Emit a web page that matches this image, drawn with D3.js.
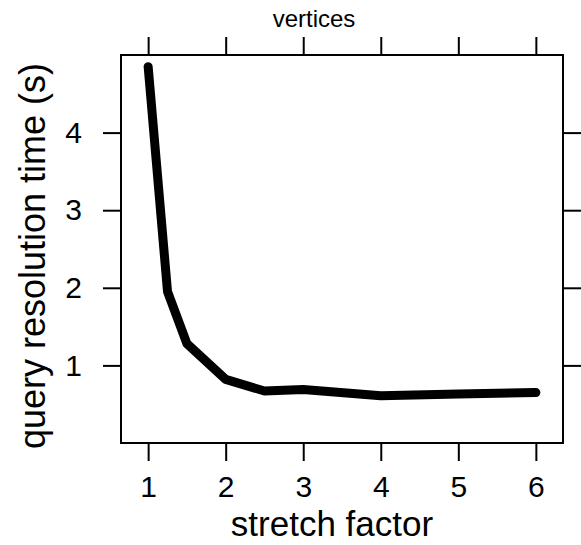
<!DOCTYPE html>
<html>
<head>
<meta charset="utf-8">
<script src="https://cdn.jsdelivr.net/npm/d3@7"></script>
<style>
  body { margin: 0; background: #fff; }
  text { font-family: "Liberation Sans", Arial, Helvetica, sans-serif; fill: #000; }
</style>
</head>
<body>
<div id="vis"></div>
<script>
// data
var stretchFactor = [1, 1.25, 1.5, 2, 2.5, 3, 4, 5, 6];
var queryTime = [4.85, 1.95, 1.28, 0.82, 0.67, 0.69, 0.61, 0.63, 0.65];
var xTicks = [1, 2, 3, 4, 5, 6];
var yTicks = [1, 2, 3, 4];

var width = 581, height = 545;
var panel = {left: 121, right: 563, top: 55, bottom: 443};

var svg = d3.select("#vis")
  .append("svg")
  .attr("width", width)
  .attr("height", height);

// lattice style padding on x, y fixed 0..5
var x = d3.scaleLinear().domain([0.65, 6.35]).range([panel.left, panel.right]);
var y = d3.scaleLinear().domain([0, 5]).range([panel.bottom, panel.top]);

var tickLen = 18;

// bottom axis with labels
var xAxis = svg.append("g")
  .attr("transform", `translate(0,${panel.bottom})`)
  .call(d3.axisBottom(x).tickValues(xTicks).tickSize(tickLen).tickPadding(15).tickFormat(d3.format("d")));

// top axis, ticks only
var xAxisTop = svg.append("g")
  .attr("transform", `translate(0,${panel.top})`)
  .call(d3.axisTop(x).tickValues(xTicks).tickSize(tickLen).tickFormat(""));

// left axis with labels
var yAxis = svg.append("g")
  .attr("transform", `translate(${panel.left},0)`)
  .call(d3.axisLeft(y).tickValues(yTicks).tickSize(tickLen).tickPadding(21).tickFormat(d3.format("d")));

// right axis, ticks only
var yAxisRight = svg.append("g")
  .attr("transform", `translate(${panel.right},0)`)
  .call(d3.axisRight(y).tickValues(yTicks).tickSize(tickLen).tickFormat(""));

svg.selectAll(".domain").remove();
svg.selectAll(".tick line").attr("stroke", "#000").attr("stroke-width", 2);
svg.selectAll(".tick text").style("font-size", "30px").attr("fill", "#000");

// panel box
svg.append("rect")
  .attr("x", panel.left)
  .attr("y", panel.top)
  .attr("width", panel.right - panel.left)
  .attr("height", panel.bottom - panel.top)
  .attr("fill", "none")
  .attr("stroke", "#000")
  .attr("stroke-width", 2);

// the line
var line = d3.line()
  .x(function (d, i) { return x(stretchFactor[i]); })
  .y(function (d) { return y(d); });

svg.append("path")
  .datum(queryTime)
  .attr("fill", "none")
  .attr("stroke", "#000")
  .attr("stroke-width", 9)
  .attr("stroke-linecap", "round")
  .attr("stroke-linejoin", "round")
  .attr("d", line);

// titles
svg.append("text")
  .attr("x", 314)
  .attr("y", 27)
  .attr("text-anchor", "middle")
  .style("font-size", "24px")
  .text("vertices");

svg.append("text")
  .attr("x", 332)
  .attr("y", 536)
  .attr("text-anchor", "middle")
  .style("font-size", "35px")
  .text("stretch factor");

svg.append("text")
  .attr("transform", "translate(45,256) rotate(-90)")
  .attr("text-anchor", "middle")
  .style("font-size", "36px")
  .text("query resolution time (s)");
</script>
</body>
</html>
